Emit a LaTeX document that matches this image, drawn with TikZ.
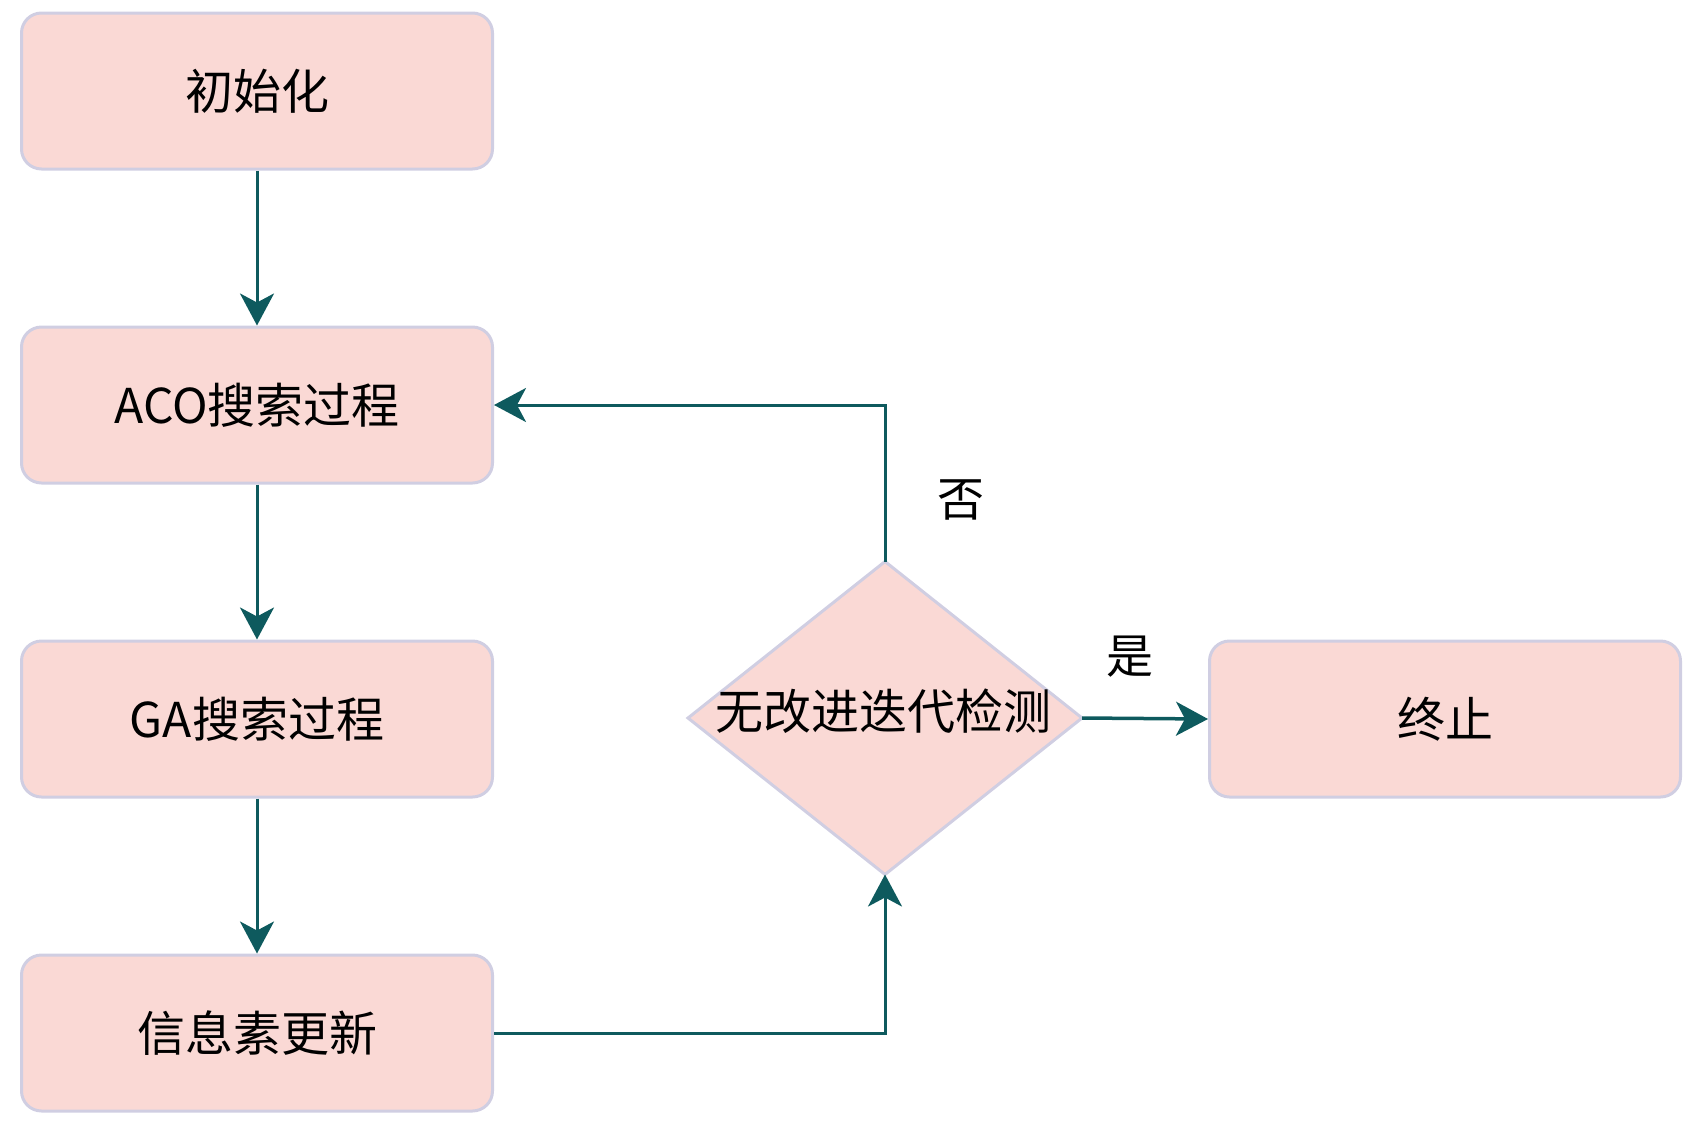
\documentclass[tikz,border=0pt]{standalone}
\usepackage{fontspec}
\setmainfont{Noto Sans CJK SC}
\usetikzlibrary{shapes.geometric,arrows.meta}
\definecolor{boxfill}{HTML}{FAD9D5}
\definecolor{boxline}{HTML}{D0CEE2}
\definecolor{conn}{HTML}{0E5A5E}
\begin{document}
\begin{tikzpicture}[x=1pt,y=-1pt,
  procbox/.style={draw=boxline,fill=boxfill,line width=3pt,rounded corners=20pt,
    minimum width=471pt,minimum height=156pt,inner sep=0pt,font=\fontsize{48}{52}\selectfont},
  decbox/.style={draw=boxline,fill=boxfill,line width=3pt,diamond,
    minimum width=394pt,minimum height=313pt,inner sep=0pt,outer sep=0pt},
  conn/.style={draw=conn,line width=3pt,-{Stealth[length=32pt,width=34pt,inset=9pt]}},
  lbl/.style={font=\fontsize{47}{50}\selectfont,inner sep=0pt}]
\useasboundingbox (0,0) rectangle (1697,1130);
\node[procbox] (init) at (257,91) {初始化};
\node[procbox] (aco) at (257,405) {ACO搜索过程};
\node[procbox] (ga) at (257,719) {GA搜索过程};
\node[procbox] (ph) at (257,1033) {信息素更新};
\node[decbox] (dec) at (885,718) {};
\node[font=\fontsize{48}{52}\selectfont,inner sep=0pt] (dectext) at (883,711) {无改进迭代检测};
\node[procbox] (stop) at (1445,719) {终止};
\draw[conn] (init) -- (aco);
\draw[conn] (aco) -- (ga);
\draw[conn] (ga) -- (ph);
\draw[conn] (ph.east) -- (dec.south |- ph.east) -- (dec.south);
\draw[conn] (dec.north) -- (dec.north |- aco.east) -- (aco.east);
\draw[conn,line width=3.5pt] (dec.east) -- (stop.west);
\node[lbl] (no) at (961,500) {否};
\node[lbl] (yes) at (1130,657) {是};
\end{tikzpicture}
\end{document}
